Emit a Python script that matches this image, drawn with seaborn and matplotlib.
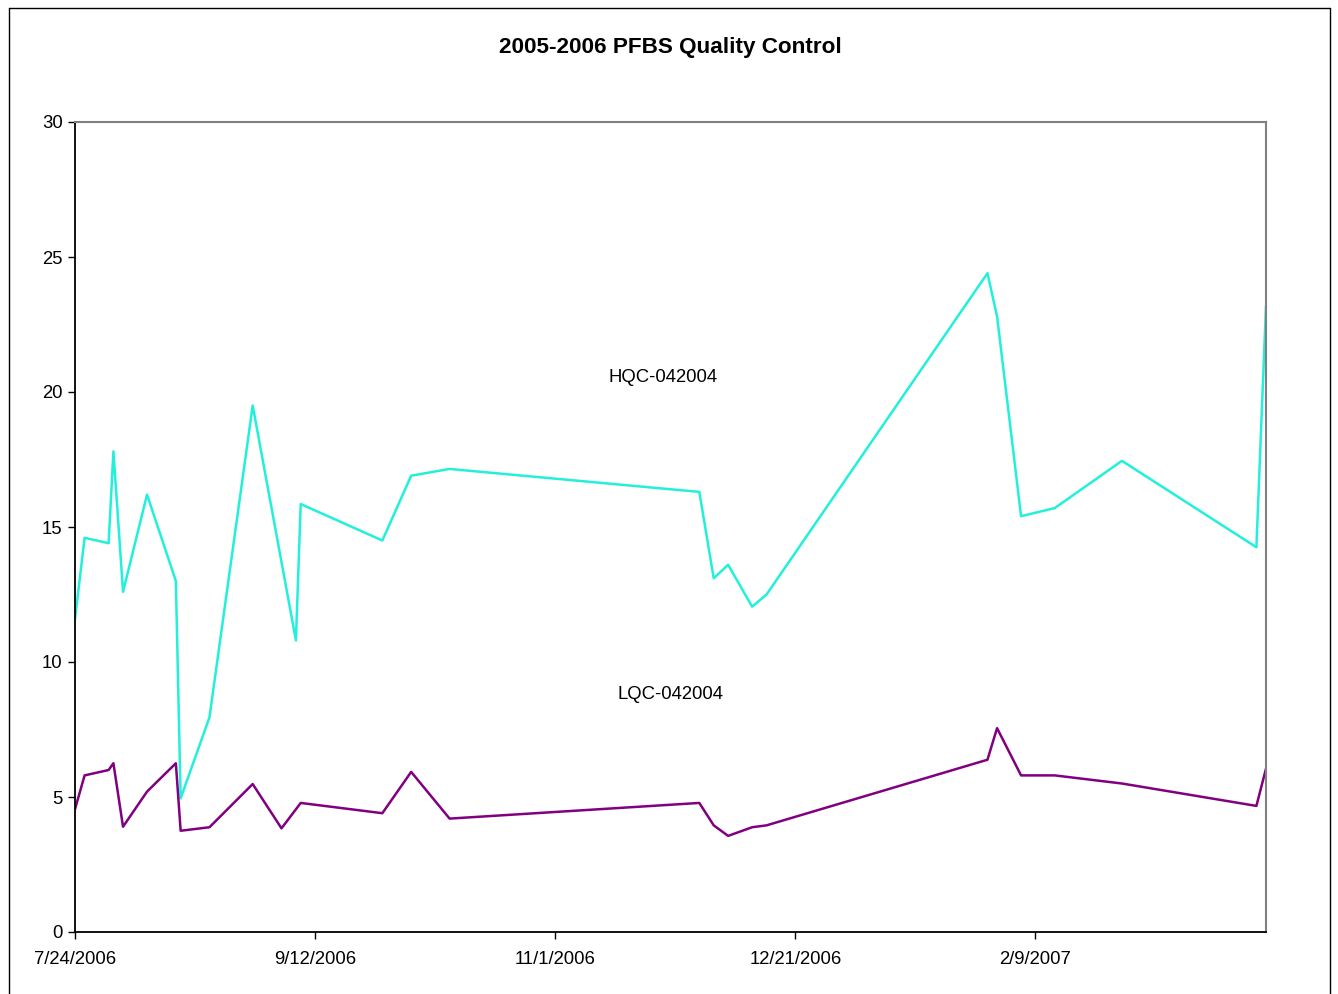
import pandas as pd
import seaborn as sns
import matplotlib.pyplot as plt
import matplotlib.dates as mdates
from matplotlib.lines import Line2D

#----------------------
# Data
#----------------------

hqc_dates = ["2006-07-24", "2006-07-26", "2006-07-31", "2006-08-01", "2006-08-03",
             "2006-08-08", "2006-08-14", "2006-08-15", "2006-08-21", "2006-08-30",
             "2006-09-08", "2006-09-09", "2006-09-26", "2006-10-02", "2006-10-10",
             "2006-12-01", "2006-12-04", "2006-12-07", "2006-12-12", "2006-12-15",
             "2007-01-30", "2007-02-01", "2007-02-06", "2007-02-13", "2007-02-27",
             "2007-03-27", "2007-03-29"]
hqc_values = [11.6, 14.6, 14.4, 17.8, 12.6,
              16.2, 13.0, 4.95, 7.95, 19.5,
              10.8, 15.85, 14.5, 16.9, 17.15,
              16.3, 13.1, 13.6, 12.05, 12.5,
              24.4, 22.8, 15.4, 15.7, 17.45,
              14.25, 23.2]

lqc_dates = ["2006-07-24", "2006-07-26", "2006-07-31", "2006-08-01", "2006-08-03",
             "2006-08-08", "2006-08-14", "2006-08-15", "2006-08-21", "2006-08-30",
             "2006-09-05", "2006-09-09", "2006-09-26", "2006-10-02", "2006-10-10",
             "2006-12-01", "2006-12-04", "2006-12-07", "2006-12-12", "2006-12-15",
             "2007-01-30", "2007-02-01", "2007-02-06", "2007-02-13", "2007-02-27",
             "2007-03-27", "2007-03-29"]
lqc_values = [4.55, 5.8, 6.0, 6.25, 3.9,
              5.2, 6.25, 3.75, 3.88, 5.48,
              3.84, 4.78, 4.4, 5.93, 4.2,
              4.78, 3.95, 3.56, 3.88, 3.95,
              6.38, 7.55, 5.8, 5.8, 5.5,
              4.67, 6.05]

tick_dates = ["2006-07-24", "2006-09-12", "2006-11-01", "2006-12-21", "2007-02-09"]

hqc = pd.DataFrame({"date": pd.to_datetime(hqc_dates), "value": hqc_values})
lqc = pd.DataFrame({"date": pd.to_datetime(lqc_dates), "value": lqc_values})

#----------------------
# Plot
#----------------------

sns.set_style("white")
plt.rcParams['font.family'] = ['Liberation Sans', 'DejaVu Sans']
plt.rcParams['text.color'] = 'black'
plt.rcParams['xtick.color'] = 'black'
plt.rcParams['ytick.color'] = 'black'

fig = plt.figure(figsize=(13.38, 9.94), dpi=100)
ax = fig.add_axes([75 / 1338, 1 - 932 / 994, (1266 - 75) / 1338, (932 - 122) / 994])

sns.lineplot(data=hqc, x="date", y="value", color="#22F0DA", linewidth=1.8, ax=ax)
sns.lineplot(data=lqc, x="date", y="value", color="#800080", linewidth=1.8, ax=ax)

ax.set_xlim(pd.Timestamp("2006-07-24"), pd.Timestamp("2007-03-29"))
ax.set_ylim(0, 30)
ax.set_yticks([0, 5, 10, 15, 20, 25, 30])
ax.set_xticks(pd.to_datetime(tick_dates))
ax.xaxis.set_major_formatter(
    plt.FuncFormatter(lambda v, p: "{d.month}/{d.day}/{d.year}".format(d=mdates.num2date(v))))
ax.tick_params(axis='both', which='major', labelsize=13.3, direction='out',
               length=5, width=1, color='black', labelcolor='black', bottom=True, left=True)
ax.tick_params(axis='x', pad=9)
ax.tick_params(axis='y', pad=4)
ax.set_xlabel("")
ax.set_ylabel("")

for side in ['left', 'bottom']:
    ax.spines[side].set_color('black')
    ax.spines[side].set_linewidth(1.3)
for side in ['top', 'right']:
    ax.spines[side].set_color('#808080')
    ax.spines[side].set_linewidth(1.5)

ax.text(0.494, 0.685, "HQC-042004", transform=ax.transAxes, ha='center', va='center',
        fontsize=13.3, color='black')
ax.text(0.5, 0.293, "LQC-042004", transform=ax.transAxes, ha='center', va='center',
        fontsize=13.3, color='black')

fig.text(670 / 1338, 1 - 47 / 994, "2005-2006 PFBS Quality Control", ha='center', va='center',
         fontsize=16.2, fontweight='bold', color='black')

# outer chart frame
for xs, ys in [([9, 9], [994, 8]), ([9, 1330], [8, 8]), ([1330, 1330], [8, 994])]:
    fig.add_artist(Line2D([x / 1338 for x in xs], [1 - y / 994 for y in ys],
                          transform=fig.transFigure, color='black', linewidth=1))

plt.savefig("out.png", dpi=100)
